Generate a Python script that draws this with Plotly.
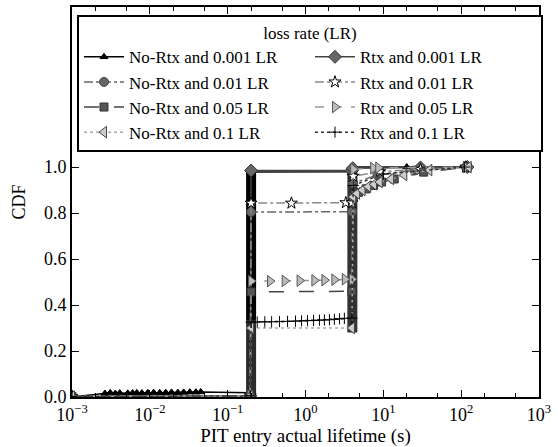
import plotly.graph_objects as go

# ---------------- data ----------------
# No-Rtx, 0.001 LR
x_nr1 = [0.001, 0.00265, 0.0031, 0.0036, 0.0041, 0.0052, 0.006, 0.0068, 0.0079, 0.0094,
         0.0112, 0.0134, 0.016, 0.019, 0.0229, 0.0272, 0.0326, 0.039, 0.045, 0.195, 0.2,
         3.95, 4.05, 20, 125]
y_nr1 = [0.0, 0.015, 0.018, 0.015, 0.017, 0.016, 0.017, 0.018, 0.017, 0.018,
         0.019, 0.018, 0.019, 0.02, 0.019, 0.02, 0.021, 0.021, 0.022, 0.018, 0.978,
         0.98, 1.0, 1.0, 1.0]
# Rtx, 0.001 LR
x_r1 = [0.001, 0.195, 0.2, 3.95, 4.05, 30, 120]
y_r1 = [0.002, 0.005, 0.985, 0.985, 0.995, 0.998, 1.0]
# No-Rtx, 0.01 LR
x_nr2 = [0.001, 0.195, 0.2, 3.95, 4.1, 8.4, 25, 115]
y_nr2 = [0.002, 0.005, 0.804, 0.806, 0.93, 0.965, 0.985, 1.0]
# Rtx, 0.01 LR
x_r2 = [0.001, 0.195, 0.2, 0.66, 3.3, 3.95, 4.1, 9, 30, 115]
y_r2 = [0.002, 0.005, 0.843, 0.843, 0.845, 0.845, 0.96, 0.98, 0.99, 1.0]
# No-Rtx, 0.05 LR
x_nr3 = [0.001, 0.195, 0.2, 3.95, 4.1, 4.8, 6.0, 7.5, 9.5, 13.8, 33, 120]
y_nr3 = [0.002, 0.005, 0.457, 0.46, 0.87, 0.89, 0.905, 0.92, 0.935, 0.948, 0.978, 1.0]
# Rtx, 0.05 LR
x_r3 = [0.001, 0.195, 0.2, 0.35, 0.54, 0.84, 1.3, 1.75, 2.35, 3.2, 3.95, 4.1, 7.4, 8.6, 115]
y_r3 = [0.002, 0.005, 0.504, 0.504, 0.505, 0.506, 0.507, 0.508, 0.51, 0.512, 0.512, 0.99, 0.995, 0.997, 1.0]
# No-Rtx, 0.1 LR
x_nr4 = [0.001, 0.195, 0.2, 3.95, 4.1, 4.6, 5.4, 6.4, 7.6, 9.0, 12.6, 18.6, 39, 125]
y_nr4 = [0.002, 0.005, 0.30, 0.30, 0.87, 0.885, 0.9, 0.915, 0.925, 0.935, 0.948, 0.965, 0.987, 1.0]
# Rtx, 0.1 LR
x_r4 = [0.001, 0.195, 0.2, 0.24, 0.30, 0.367, 0.464, 0.588, 0.744, 0.89, 1.06, 1.27, 1.51,
        1.75, 2.03, 2.35, 2.73, 3.16, 3.95, 4.1, 10, 110]
y_r4 = [0.002, 0.005, 0.326, 0.326, 0.327, 0.327, 0.328, 0.329, 0.33, 0.331, 0.332, 0.333, 0.334,
        0.335, 0.336, 0.338, 0.34, 0.342, 0.343, 0.92, 0.97, 1.0]

# dense vertical CDF jumps (drawn as thick strokes)
jump_x = [0.2, 0.2, 4.0]
jump_lo = [0.0, 0.335, 0.28]
jump_hi = [0.335, 0.985, 1.0]

series_names = ["No-Rtx and 0.001 LR", "Rtx and 0.001 LR",
                "No-Rtx and 0.01 LR", "Rtx and 0.01 LR",
                "No-Rtx and 0.05 LR", "Rtx and 0.05 LR",
                "No-Rtx and 0.1 LR", "Rtx and 0.1 LR"]

x_tickvals = [1e-3, 1e-2, 1e-1, 1e0, 1e1, 1e2, 1e3]
x_ticktext = ["10<sup>−3</sup>", "10<sup>−2</sup>", "10<sup>−1</sup>", "10<sup>0</sup>",
              "10<sup>1</sup>", "10<sup>2</sup>", "10<sup>3</sup>"]
y_tickvals = [0, 0.2, 0.4, 0.6, 0.8, 1.0]

# ---------------- styles ----------------
FONT = "Liberation Serif"
jump_colors = ["#2a2a2a", "#000000", "#333333"]

styles = [
    dict(line=dict(color="#000000", width=1.5, dash="solid"),
         marker=dict(symbol="triangle-up", size=7, color="#000000", line=dict(color="#000000", width=1))),
    dict(line=dict(color="#444444", width=1.5, dash="solid"),
         marker=dict(symbol="diamond", size=10, color="#666666", line=dict(color="#333333", width=1))),
    dict(line=dict(color="#666666", width=1.5, dash="dashdot"),
         marker=dict(symbol="circle", size=9, color="#666666", line=dict(color="#444444", width=1))),
    dict(line=dict(color="#888888", width=1.5, dash="dashdot"),
         marker=dict(symbol="star", size=9, color="#ffffff", line=dict(color="#000000", width=1))),
    dict(line=dict(color="#444444", width=1.5, dash="longdash"),
         marker=dict(symbol="square", size=8, color="#555555", line=dict(color="#333333", width=1))),
    dict(line=dict(color="#999999", width=1.5, dash="dash"),
         marker=dict(symbol="triangle-right", size=10, color="#bbbbbb", line=dict(color="#555555", width=1))),
    dict(line=dict(color="#aaaaaa", width=1.5, dash="dot"),
         marker=dict(symbol="triangle-left", size=10, color="#cccccc", line=dict(color="#444444", width=1))),
    dict(line=dict(color="#333333", width=1.5, dash="dot"),
         marker=dict(symbol="cross-thin", size=8, color="#000000", line=dict(color="#000000", width=1))),
]

series = [(x_nr1, y_nr1), (x_r1, y_r1), (x_nr2, y_nr2), (x_r2, y_r2),
          (x_nr3, y_nr3), (x_r3, y_r3), (x_nr4, y_nr4), (x_r4, y_r4)]

fig = go.Figure()

for jx, lo, hi, c in zip(jump_x, jump_lo, jump_hi, jump_colors):
    fig.add_trace(go.Scatter(x=[jx, jx], y=[lo, hi], mode="lines",
                             line=dict(color=c, width=10), showlegend=False, hoverinfo="skip"))

for (xs, ys), name, st in zip(series, series_names, styles):
    fig.add_trace(go.Scatter(x=xs, y=ys, mode="lines+markers", name=name,
                             line=st["line"], marker=st["marker"]))

axis_common = dict(showline=True, linecolor="black", linewidth=2, mirror="ticks",
                   ticks="inside", tickcolor="black", tickwidth=1, showgrid=False,
                   zeroline=False, automargin=False,
                   tickfont=dict(family=FONT, size=18, color="black"))

fig.update_xaxes(type="log", range=[-3, 3], tickvals=x_tickvals, ticktext=x_ticktext, ticklen=7,
                 minor=dict(ticks="inside", ticklen=4, tickcolor="black", showgrid=False),
                 title=dict(text="PIT entry actual lifetime (s)", font=dict(family=FONT, size=19, color="black"),
                            standoff=2),
                 **axis_common)
fig.update_yaxes(range=[0, 1.696], tickvals=y_tickvals, tickformat=".1f", ticklen=7,
                 title=dict(text="CDF", font=dict(family=FONT, size=18, color="black"), standoff=14),
                 **axis_common)

fig.update_layout(
    width=558, height=447,
    margin=dict(l=72, r=19, t=7, b=50),
    plot_bgcolor="white", paper_bgcolor="white",
    font=dict(family=FONT, size=18, color="black"),
    legend=dict(orientation="h", x=0.0107, y=0.979, xanchor="left", yanchor="top",
                bordercolor="black", borderwidth=2, bgcolor="white",
                entrywidth=176, itemwidth=40,
                title=dict(text="loss rate (LR)", side="top center", font=dict(family=FONT, size=17)),
                font=dict(family=FONT, size=17, color="black")),
)

fig.write_html("out.html")
